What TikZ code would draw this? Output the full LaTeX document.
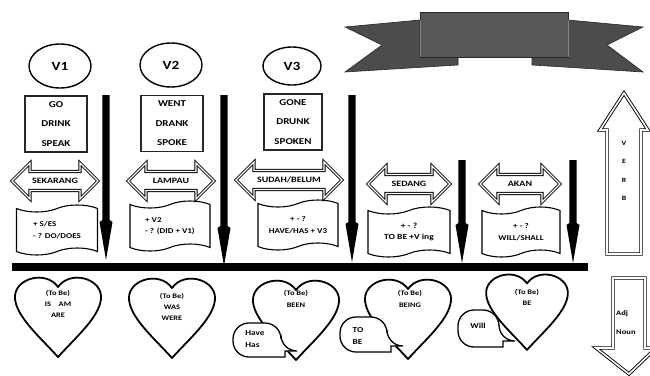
\documentclass[tikz,border=0pt]{standalone}
\usepackage{fontspec}
\setmainfont{Carlito}[FakeStretch=1.22]
\usetikzlibrary{shapes.symbols,shapes.geometric}
\newcommand\dbarrow[5]{% name, cx, cy, half-length, label
  \draw[dblout] (#2-#4,#3) -- (#2-#4+18,#3-18) -- (#2-#4+18,#3-9.5) -- (#2+#4-18,#3-9.5)
    -- (#2+#4-18,#3-18) -- (#2+#4,#3) -- (#2+#4-18,#3+18) -- (#2+#4-18,#3+9.5)
    -- (#2-#4+18,#3+9.5) -- (#2-#4+18,#3+18) -- cycle;
  \node[arrlabel] (#1) at (#2,#3) {#5};}
\newcommand\vspear[3]{% x, top, tip
  \fill[black] (#1-3.6,#2) -- (#1+3.6,#2) -- (#1+3.6,#3-40) -- (#1+6.5,#3-38) -- (#1,#3)
    -- (#1-6.5,#3-38) -- (#1-3.6,#3-40) -- cycle;}
\newcommand\bubblepath[4]{% L T R B
  \draw[bubbleline] (#3+4,#4) [rounded corners=16] -- (#1,#4) -- (#1,#2) -- (#3,#2)
    -- (#3,#4-6) [sharp corners] -- (#3+4,#4-6) -- cycle;}
\begin{document}
\begin{tikzpicture}[x=1pt,y=-1pt,
  vellipse/.style={ellipse,draw,line width=1.4pt,minimum width=62pt,minimum height=44pt,
    font=\fontsize{12.5}{14}\selectfont\bfseries},
  verbbox/.style={draw=black!85,line width=1.1pt,minimum width=62pt,minimum height=56pt,
    align=center,font=\fontsize{9}{19.5}\selectfont\bfseries},
  dblout/.style={draw=black,line width=0.9pt,double=white,double distance=1.3pt,fill=white,line join=miter},
  arrlabel/.style={font=\fontsize{8.2}{9}\selectfont\bfseries,inner sep=0pt},
  tapebox/.style={tape,draw,line width=1.1pt,minimum width=81pt,minimum height=50pt,
    tape bend height=7pt,font=\fontsize{7.4}{11.5}\selectfont\bfseries},
  heartline/.style={draw=black,line width=1.8pt,fill=white,line join=round},
  hearttext/.style={align=center,font=\fontsize{6.9}{11}\selectfont\bfseries,inner sep=0pt},
  bubbleline/.style={draw=black,line width=1.3pt,fill=white},
  bubtext/.style={align=left,font=\fontsize{7.6}{12}\selectfont\bfseries,inner sep=0pt},
  heart/.pic={\path[heartline] (0,82) .. controls (-18,62) and (-44,40) .. (-43,21)
     .. controls (-42,3) and (-12,-5) .. (0,12) .. controls (12,-5) and (42,3) .. (43,21)
     .. controls (44,40) and (18,62) .. (0,82) -- cycle;},
  bigarrow/.style={draw=black,line width=0.9pt,double=white,double distance=1.6pt,fill=white,line join=miter}
]
\useasboundingbox (0,0) rectangle (650,375);
\clip (0,0) rectangle (650,375);

% banner
\fill[black!70,draw=black!85,line width=0.6pt] (420,20) -- (345,27) -- (382,45) -- (345,72) -- (458,65) -- (458,57) -- (420,57) -- cycle;
\fill[black!70,draw=black!85,line width=0.6pt] (568,20) -- (643,27) -- (607,45) -- (643,72) -- (532,65) -- (532,57) -- (568,57) -- cycle;
\fill[black!66,draw=black!85,line width=0.6pt] (420,12) rectangle (568,57);
\draw[black!50,line width=0.8pt] (420,20) -- (420,57) (568,20) -- (568,57);

% V ellipses
\node[vellipse] (v1) at (60,66) {V1};
\node[vellipse] (v2) at (171,65) {V2};
\node[vellipse,minimum width=58pt,minimum height=38pt] (v3) at (292,66) {V3};

% verb boxes
\node[verbbox] (b1) at (56,124) {GO\\DRINK\\SPEAK};
\node[verbbox] (b2) at (172,123.5) {WENT\\DRANK\\SPOKE};
\node[verbbox,minimum width=58pt] (b3) at (293,122) {GONE\\DRUNK\\SPOKEN};

% vertical spears
\vspear{106}{95}{260}
\vspear{224}{95}{266}
\vspear{352}{95}{262}
\vspear{462}{160}{263}
\vspear{573}{160}{263}

% horizontal bar
\fill[black] (12,263) rectangle (588,271);

% double arrows
\dbarrow{sekarang}{55}{181}{43}{SEKARANG}
\dbarrow{lampau}{171}{181}{43}{LAMPAU}
\dbarrow{sudah}{289}{180}{53}{SUDAH/BELUM}
\dbarrow{sedang}{409}{184}{41}{SEDANG}
\dbarrow{akan}{520}{184}{40}{AKAN}

% tape boxes
\node[tapebox,align=left] (t1) at (57,230) {+ S/ES\\- ? DO/DOES};
\node[tapebox,align=left,minimum width=80pt] (t2) at (170,226) {+ V2\\- ? (DID + V1)};
\node[tapebox,align=center,minimum width=80pt] (t3) at (298,225) {+ - ?\\HAVE/HAS + V3};
\node[tapebox,align=center,minimum width=82pt,font=\fontsize{7.8}{11.5}\selectfont\bfseries] (t4) at (409,232) {+ - ?\\TO BE +V ing};
\node[tapebox,align=center,minimum width=78pt] (t5) at (521,232) {+ - ?\\WILL/SHALL};

% hearts
\pic at (58,275) {heart};
\pic at (172,276) {heart};
\pic at (296,278) {heart};
\pic at (408,277) {heart};
\pic[scale=0.95] at (527,272) {heart};
\node[hearttext] (h1) at (58,304) {(To Be)\\IS\hspace{1.1em}AM\\ARE};
\node[hearttext] (h2) at (172,307) {(To Be)\\WAS\\WERE};
\node[hearttext,font=\fontsize{6.9}{12}\selectfont\bfseries] (h3) at (296,299) {(To Be)\\BEEN};
\node[hearttext,font=\fontsize{6.9}{12}\selectfont\bfseries] (h4) at (410,299) {(To Be)\\BEING};
\node[hearttext] (h5) at (527,297) {(To Be)\\BE};

% speech bubbles
\bubblepath{233}{323}{281}{357}
\bubblepath{340}{317}{387}{352}
\bubblepath{458}{310}{499}{347}
\node[bubtext] (s1) at (255,339) {Have\\Has};
\node[bubtext] (s2) at (358,336) {TO\\BE};
\node[bubtext] (s3) at (478,326) {Will};

% VERB arrow
\path[bigarrow] (624,93) -- (648,130) -- (641,130) -- (641,254) -- (607,254) -- (607,130) -- (600,130) -- cycle;
\node[align=center,font=\fontsize{6.5}{18.5}\selectfont\bfseries,inner sep=0pt] (verb) at (624,171) {V\\E\\R\\B};

% Adj Noun arrow
\path[bigarrow] (613,278) -- (645,278) -- (645,348) -- (656,348) -- (629,374) -- (596,348) -- (613,348) -- cycle;
\node[align=left,font=\fontsize{7}{19}\selectfont\bfseries,inner sep=0pt,anchor=west] (adj) at (616,323) {Adj\\Noun};
\end{tikzpicture}
\end{document}
